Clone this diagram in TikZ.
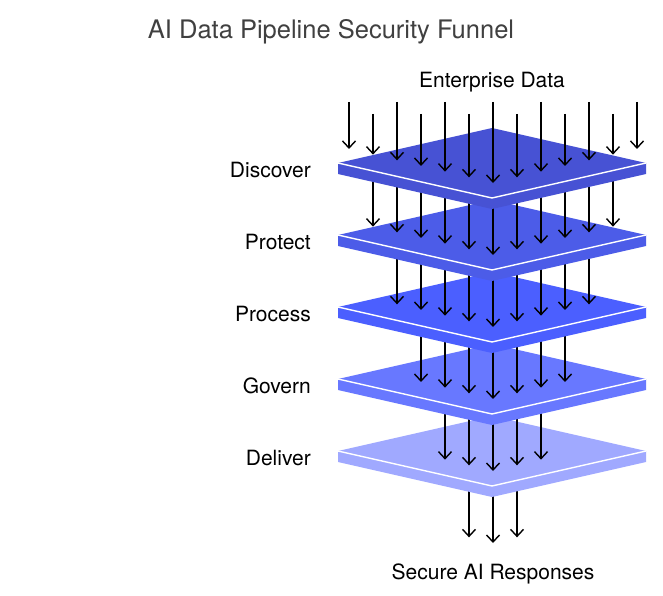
\documentclass[tikz,border=0pt]{standalone}
\usepackage{fontspec}
\setmainfont{TeX Gyre Heros}
\usepackage{xcolor}
\usetikzlibrary{arrows.meta}
\definecolor{layerA}{HTML}{4752D4}
\definecolor{layerB}{HTML}{4C5CE8}
\definecolor{layerC}{HTML}{4B5FFF}
\definecolor{layerD}{HTML}{6878FF}
\definecolor{layerE}{HTML}{A0A9FF}
\definecolor{titlegray}{HTML}{404040}

\begin{document}
\begin{tikzpicture}[
		x=1pt,y=-1pt,
		flowarrow/.style={-{Straight Barb[length=7pt,width=13pt,line width=1.4pt]}, line width=1.4pt, draw=black},
		slabedge/.style={draw=white, line width=1.4pt, line join=round},
		layerlabel/.style={font=\fontsize{21}{25}\selectfont, text=black, anchor=east, inner sep=0pt},
		endlabel/.style={font=\fontsize{21}{25}\selectfont, text=black},
		charttitle/.style={font=\fontsize{25.5}{30}\selectfont, text=titlegray}
	]
	
	% Canvas
	\fill[white] (0,0) rectangle (663,596);
	\useasboundingbox (0,0) rectangle (663,596);
	
	% Title and end labels
	\node[charttitle] (title) at (331,32) {AI Data Pipeline Security Funnel};
	\node[endlabel] (source) at (492,82) {Enterprise Data};
	\node[endlabel] (sink) at (493,574) {Secure AI Responses};
	
	% Output arrows (starts hidden under the last slab)
	\foreach \j in {-1,0,1}
		\draw[flowarrow] ({493+24*\j},465) -- ({493+24*\j},{543-5.67*abs(\j)});
	
	% Slabs, drawn bottom to top, with the arrows landing on each
	\foreach \i/\cy/\fc/\lab/\m in {5/451/layerE/Deliver/2, 4/379/layerD/Govern/3, 3/307/layerC/Process/4, 2/235/layerB/Protect/5, 1/163/layerA/Discover/6}{
		\fill[\fc] (338,\cy) -- (492,\cy+35) -- (646,\cy) -- (646,\cy+11) -- (492,\cy+46) -- (338,\cy+11) -- cycle;
		\fill[\fc] (338,\cy) -- (492,\cy-35) -- (646,\cy) -- (492,\cy+35) -- cycle;
		\draw[slabedge] (338,\cy) -- (492,\cy+35) -- (646,\cy);
		\node[layerlabel] (lab\i) at (311,\cy+7) {\lab};
		\ifnum\i>1
			\foreach \j in {-\m,...,\m}
				\draw[flowarrow] ({493+24*\j},\cy-65) -- ({493+24*\j},{\cy+20-5.67*abs(\j)});
		\fi
	}
	
	% Incoming arrows onto the first slab
	\foreach \j in {-6,...,6}{
		\pgfmathsetmacro{\ys}{mod(abs(\j),2)==1 ? 114 : 102}
		\draw[flowarrow] ({493+24*\j},\ys) -- ({493+24*\j},{183-5.67*abs(\j)});
	}
	
\end{tikzpicture}
\end{document}
